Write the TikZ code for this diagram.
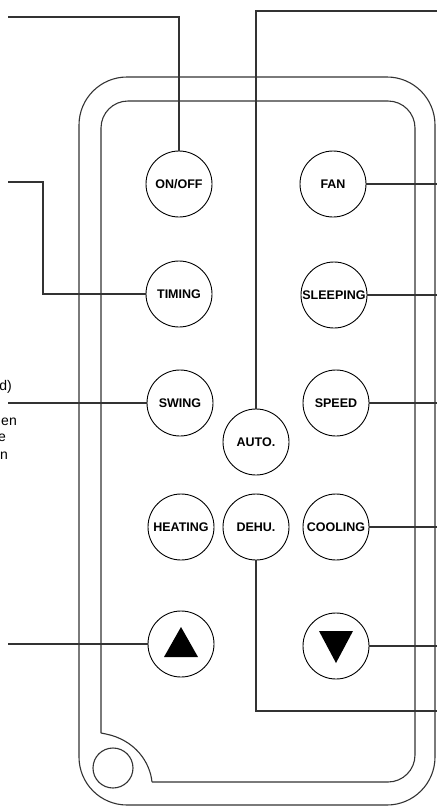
\documentclass[tikz,border=0pt]{standalone}
\usepackage{fontspec}
\setmainfont{Liberation Sans}
\begin{document}
\begin{tikzpicture}[x=1pt,y=-1pt,
  btn/.style={draw,circle,minimum size=66pt,inner sep=0pt,line width=0.9pt,
    font=\fontsize{12.5}{13}\selectfont\bfseries},
  lead/.style={line width=1.2pt,black!80},
  case/.style={line width=1.1pt,black!80},
  cut/.style={anchor=base east,inner sep=0pt,font=\fontsize{14}{14}\selectfont}]
  \useasboundingbox (0,0) rectangle (437,807);
  \clip (0,0) rectangle (437,807);

  % Housing
  \draw[case,rounded corners=48] (79,77) rectangle (435,805);
  \draw[case,rounded corners=27] (152,782) -- (415,782) -- (415,101) -- (101,101) -- (101,733);
  \draw[case] (101,733) -- (106,734) .. controls (135,740) and (150,762) .. (152,782);
  \draw[case] (113,768) circle (20pt);

  % Left column
  \node[btn] (onoff) at (179,184) {ON/OFF};
  \node[btn] (timing) at (179,294) {TIMING};
  \node[btn] (swing) at (180,403) {SWING};
  \node[btn] (heating) at (181,527) {HEATING};
  \node[btn] (up) at (181,644) {};
  \fill (up.center) +(0,-17) -- +(17,13) -- +(-17,13) -- cycle;

  % Middle
  \node[btn] (auto) at (256,442) {AUTO.};
  \node[btn] (dehu) at (256,527) {DEHU.};

  % Right column
  \node[btn] (fan) at (333,184) {FAN};
  \node[btn] (sleeping) at (334,295) {SLEEPING};
  \node[btn] (speed) at (336,403) {SPEED};
  \node[btn] (cooling) at (336,527) {COOLING};
  \node[btn] (down) at (336,646) {};
  \fill (down.center) +(0,17) -- +(17,-15) -- +(-17,-15) -- cycle;

  % Leads to the left
  \coordinate (onoffend) at (8,17);
  \coordinate (timingbend) at (43,182);
  \coordinate (timingend) at (8,182);
  \coordinate (swingend) at (8,403);
  \coordinate (upend) at (8,644);
  \draw[lead] (onoff.north) |- (onoffend);
  \draw[lead] (timing.west) -| (timingbend) -- (timingend);
  \draw[lead] (swing.west) -- (swingend);
  \draw[lead] (up.west) -- (upend);

  % Leads to the right
  \coordinate (autoend) at (437,11);
  \coordinate (dehuend) at (437,711);
  \draw[lead] (auto.north) |- (autoend);
  \draw[lead] (dehu.south) |- (dehuend);
  \foreach \b in {fan,sleeping,speed,cooling,down}
    \draw[lead] (\b.east) -- (\b.east -| autoend);

  % Cut-off note text at the left edge
  \node[cut] (notea) at (12,390) {d)};
  \node[cut] (noteb) at (17,425) {en};
  \node[cut] (notec) at (6,441) {e};
  \node[cut] (noted) at (8,459) {n};
\end{tikzpicture}
\end{document}
